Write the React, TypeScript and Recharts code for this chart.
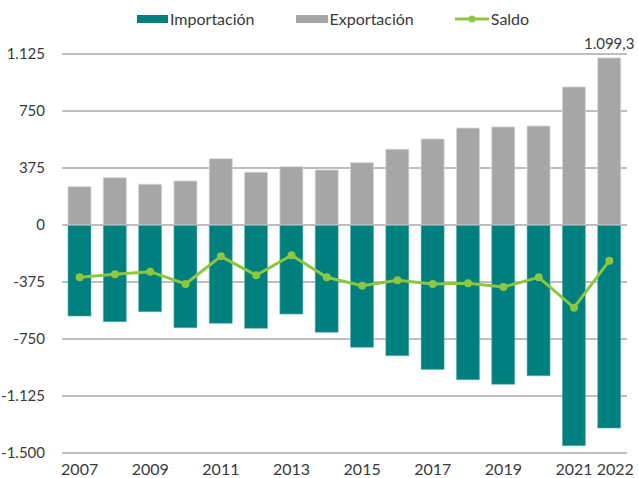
import {
  ComposedChart,
  Bar,
  Line,
  XAxis,
  YAxis,
  CartesianGrid,
  Legend,
  LabelList,
} from 'recharts'

const years = [
  '2007', '2008', '2009', '2010', '2011', '2012', '2013', '2014',
  '2015', '2016', '2017', '2018', '2019', '2020', '2021', '2022',
]
const exportacion = [252, 311, 268, 289, 436, 347, 384, 362, 410, 498, 566, 638, 645, 651, 908, 1099.3]
const importacion = [-599, -636, -570, -676, -647, -680, -586, -706, -805, -860, -950, -1018, -1048, -992, -1452, -1336]
const saldo = [-344, -324, -307, -388, -206, -331, -199, -344, -399, -364, -388, -384, -408, -344, -544, -235]
const yTicks = [-1500, -1125, -750, -375, 0, 375, 750, 1125]
const xTicks = ['2007', '2009', '2011', '2013', '2015', '2017', '2019', '2021', '2022']

const TEAL = '#007f7f'
const GRAY = '#a6a6a6'
const GREEN = '#8dc63f'
const TEXT = '#3a3a3a'
const FONT = 'Lato, "Open Sans", sans-serif'

const data = years.map((year, i) => ({
  year,
  importacion: importacion[i],
  exportacion: exportacion[i],
  saldo: saldo[i],
}))

function formatEs(value: number) {
  const sign = value < 0 ? '-' : ''
  const abs = Math.abs(value)
  const [int, dec] = abs.toString().split('.')
  const grouped = int.replace(/\B(?=(\d{3})+(?!\d))/g, '.')
  return sign + grouped + (dec ? ',' + dec : '')
}

const CustomLegend = () => {
  const item = { display: 'flex', alignItems: 'center', marginRight: 41 }
  const label = { fontSize: 16, color: TEXT, marginLeft: 2 }
  return (
    <div style={{ display: 'flex', justifyContent: 'flex-start', fontFamily: FONT, paddingLeft: 137 }}>
      <div style={item}>
        <svg width={31} height={10}><rect x={0} y={1} width={31} height={8} fill={TEAL} /></svg>
        <span style={label}>Importación</span>
      </div>
      <div style={item}>
        <svg width={32} height={10}><rect x={0} y={1} width={32} height={8} fill={GRAY} /></svg>
        <span style={label}>Exportación</span>
      </div>
      <div style={{ ...item, marginRight: 0 }}>
        <svg width={34} height={10}>
          <line x1={0} y1={5} x2={34} y2={5} stroke={GREEN} strokeWidth={3} />
          <circle cx={17} cy={5} r={3.5} fill={GREEN} />
        </svg>
        <span style={label}>Saldo</span>
      </div>
    </div>
  )
}

const YearTick = (props: any) => {
  const { x, y, payload } = props
  const shift = payload.value === '2022' ? 6 : 0
  return (
    <text x={x + shift} y={y + 14} textAnchor="middle" fontSize={16} fill={TEXT} fontFamily={FONT}>
      {payload.value}
    </text>
  )
}

const TopLabel = (props: any) => {
  const { x, y, width, index } = props
  if (index !== years.length - 1) return null
  return (
    <text x={x + width / 2} y={y - 9} textAnchor="middle" fontSize={15} fill={TEXT} fontFamily={FONT}>
      {formatEs(exportacion[index])}
    </text>
  )
}

export default function App() {
  return (
    <div style={{ position: 'absolute', left: 0, top: 0 }}>
      <style>{`body{margin:0}`}</style>
      <ComposedChart
        width={638}
        height={478}
        data={data}
        stackOffset="sign"
        margin={{ top: 20, right: 11, left: 0, bottom: 0 }}
        style={{ fontFamily: FONT }}
      >
        <CartesianGrid vertical={false} stroke="#a9a9a9" strokeWidth={1.3} />
        <XAxis
          dataKey="year"
          ticks={xTicks}
          interval={0}
          axisLine={false}
          tickLine={false}
          height={25}
          tick={<YearTick />}
        />
        <YAxis
          domain={[-1500, 1125]}
          ticks={yTicks}
          interval={0}
          axisLine={false}
          tickLine={false}
          width={62}
          tickFormatter={formatEs}
          tick={{ fontSize: 15, fill: TEXT }}
          tickMargin={11}
        />
        <Legend verticalAlign="top" height={34} wrapperStyle={{ top: 9 }} content={<CustomLegend />} />
        <Bar
          dataKey="importacion"
          name="Importación"
          stackId="a"
          fill={TEAL}
          stroke="#5fb0b0"
          strokeWidth={0.6}
          barSize={23}
          isAnimationActive={false}
        />
        <Bar
          dataKey="exportacion"
          name="Exportación"
          stackId="a"
          fill={GRAY}
          stroke="#d6d6d6"
          strokeWidth={0.8}
          barSize={23}
          isAnimationActive={false}
        >
          <LabelList dataKey="exportacion" content={<TopLabel />} />
        </Bar>
        <Line
          dataKey="saldo"
          name="Saldo"
          stroke={GREEN}
          strokeWidth={3}
          dot={{ r: 4, fill: GREEN, stroke: GREEN, strokeWidth: 0 }}
          isAnimationActive={false}
        />
      </ComposedChart>
    </div>
  )
}
